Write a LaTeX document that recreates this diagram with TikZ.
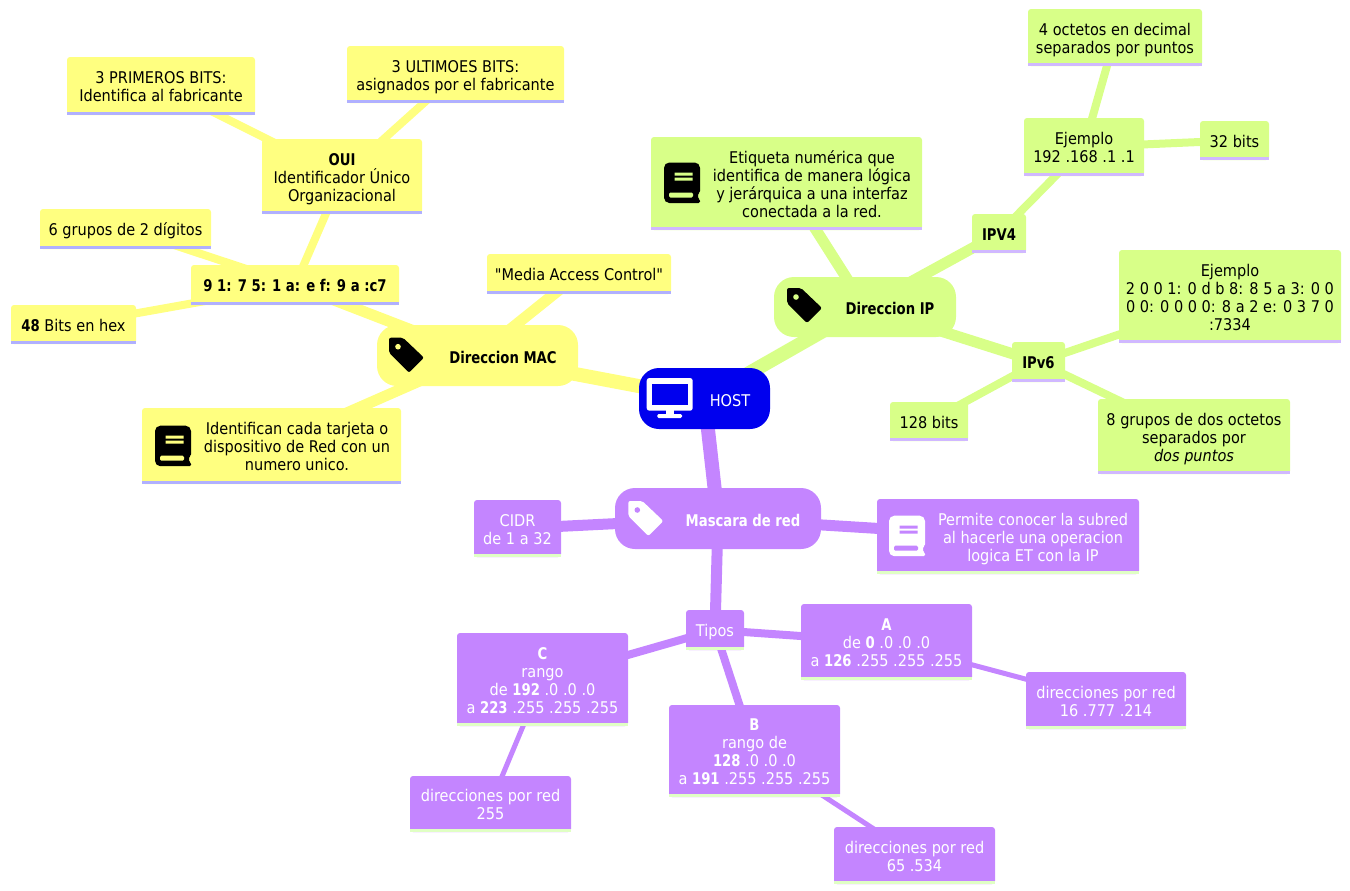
\documentclass[tikz,border=0pt]{standalone}
\usepackage{fontspec}
\setmainfont{DejaVu Sans Condensed}[Ligatures=TeXOff,BoldFeatures={FakeStretch=.91}]
\usetikzlibrary{backgrounds}
\pgfdeclarelayer{strips}
\pgfsetlayers{background,main,strips}
\definecolor{macc}{HTML}{FFFF80}
\definecolor{ipc}{HTML}{D8FF88}
\definecolor{maskc}{HTML}{C485FF}
\definecolor{hostc}{HTML}{0000EE}
\definecolor{macline}{HTML}{B0B0FF}
\definecolor{ipline}{HTML}{D0B8FF}
\definecolor{maskline}{HTML}{E0FFC4}
\newcommand\ml[1]{\rule{0pt}{14.1pt}#1\rule[-3.9pt]{0pt}{3.9pt}}
\tikzset{
  wh/.style 2 args={minimum width=#1*.75pt,minimum height=#2*.75pt},
  strip/.style={append after command={\pgfextra{\begin{pgfonlayer}{strips}\fill[#1,sharp corners]
    ([yshift=2.25pt]\tikzlastnode.south west) rectangle (\tikzlastnode.south east);\end{pgfonlayer}}}},
  pics/bookicon/.style 2 args={code={
    \fill[#1,rounded corners=4pt] (0,0)--(36,0)[rounded corners=1pt]--(36,30)--(34,31)--(34,36)--(36,37)--(36,40.5)[rounded corners=4pt]--(0,40.5)--cycle;
    \fill[#2,rounded corners=1pt] (5,30)--(29,30)--(29,35)--(5,35)--cycle;
    \fill[#2] (10.5,10)rectangle(28.5,13) (10.5,15)rectangle(28.5,18);
  }},
  pics/tagicon/.style 2 args={code={
    \fill[#1,rounded corners=1.5pt] (0,0)--(14,0)--(35,20)--(20,35)--(0,15)--cycle;
    \fill[#2] (9,9) circle (2.8);
  }},
  pics/screenicon/.style 2 args={code={
    \fill[#1,rounded corners=2pt] (0,0) rectangle (46,32.7);
    \fill[#2] (5,5.5) rectangle (41.3,27);
    \fill[#1] (19,32) rectangle (27,37);
    \fill[#1,rounded corners=1pt] (10.7,36) rectangle (35.3,40);
  }},
}
\tikzstyle{every node}=[font=\fontsize{12.1}{13.5}\selectfont]
\tikzstyle{lone}=[inner sep=0pt,align=center,
  execute at begin node={\rule{0pt}{14.1pt}},execute at end node={\rule[-3.9pt]{0pt}{3.9pt}}]
\tikzstyle{card}=[lone,rounded corners=2.25pt]
\tikzstyle{mac}=[card,fill=macc,strip=macline]
\tikzstyle{ip}=[card,fill=ipc,strip=ipline]
\tikzstyle{mask}=[card,fill=maskc,strip=maskline,text=white]
\tikzstyle{hub}=[inner sep=0pt,rounded corners=15pt]
\tikzstyle{br}=[line width=10.5pt]
\tikzstyle{brm}=[line width=8.25pt]
\tikzstyle{brs}=[line width=6pt]
\tikzstyle{brt}=[line width=3.75pt]
\begin{document}
\begin{tikzpicture}[x=.75pt,y=-.75pt]
  \useasboundingbox (0,0) rectangle (1350,890);
  \node[hub,fill=hostc,wh={131}{61}] (host) at (704.5,398.5) {};
  \node[lone,text=white] (hosttext) at (730,400) {HOST};
  \pic at (646.7,378) {screenicon={white}{hostc}};
  \node[hub,fill=macc,wh={201}{61}] (dirmac) at (477.5,355.5) {};
  \node[lone] (dirmactext) at (503,357) {\textbf{Direccion MAC}};
  \pic at (389,337.7) {tagicon={black}{macc}};
  \node[hub,fill=ipc,wh={182}{60}] (dirip) at (865,307) {};
  \node[lone] (diriptext) at (890,308) {\textbf{Direccion IP}};
  \pic at (787,288) {tagicon={black}{ipc}};
  \node[hub,fill=maskc,wh={206}{61}] (dirmask) at (718,518.5) {};
  \node[lone,text=white] (dirmasktext) at (743,520) {\textbf{Mascara de red}};
  \pic at (628.3,501) {tagicon={white}{maskc}};

  \node[mac,wh={184}{40}] (macname) at (579,274) {"Media Access Control"};
  \node[mac,wh={217}{57}] (ultimos) at (455.5,74.5) {\ml{3 ULTIMOES BITS:\\asignados por el fabricante}};
  \node[mac,wh={188}{58}] (primeros) at (161,86) {\ml{3 PRIMEROS BITS:\\Identifica al fabricante}};
  \node[mac,wh={160}{75}] (oui) at (342,176.5) {\ml{\textbf{OUI}\\Identificador Único\\Organizacional}};
  \node[mac,wh={208}{40}] (macaddr) at (295,285) {\textbf{9 1: 7 5: 1 a: e f: 9 a :c7}};
  \node[mac,wh={171}{40}] (grupos) at (125.5,229) {6 grupos de 2 dígitos};
  \node[mac,wh={125}{39}] (bitshex) at (73.5,324.5) {\textbf{48} Bits en hex};
  \node[mac,wh={259}{76}] (macnote) at (271.5,446) {};
  \node[lone] (macnotetext) at (297,446) {\ml{Identifican cada tarjeta o\\dispositivo de Red con un\\numero unico.}};
  \pic at (155,425.7) {bookicon={black}{macc}};

  \node[ip,wh={271}{93}] (ipnote) at (786.5,183.5) {};
  \node[lone] (ipnotetext) at (812,184) {\ml{Etiqueta numérica que\\identifica de manera lógica\\y jerárquica a una interfaz\\conectada a la red.}};
  \pic at (664,162.5) {bookicon={black}{ipc}};
  \node[ip,wh={54}{39}] (ipvfour) at (999,233.5) {\textbf{IPV4}};
  \node[ip,wh={120}{58}] (ejfour) at (1084,147) {\ml{Ejemplo\\192 .168 .1 .1}};
  \node[ip,wh={69}{39}] (bitsfour) at (1234.5,140.5) {32 bits};
  \node[ip,wh={174}{57}] (octetos) at (1115,37.5) {\ml{4 octetos en decimal\\separados por puntos}};
  \node[ip,wh={53}{40}] (ipvsix) at (1038.5,362) {\textbf{IPv6}};
  \node[ip,wh={222}{93}] (ejsix) at (1230,296.5) {\ml{Ejemplo\\2 0 0 1: 0 d b 8: 8 5 a 3: 0 0\\0 0: 0 0 0 0: 8 a 2 e: 0 3 7 0\\:7334}};
  \node[ip,wh={192}{75}] (octsix) at (1194,436.5) {\ml{8 grupos de dos octetos\\separados por\\\textit{dos puntos}}};
  \node[ip,wh={78}{39}] (bitssix) at (929,421.5) {128 bits};

  \node[mask,wh={87}{57}] (cidr) at (517.5,528.5) {\ml{CIDR\\de 1 a 32}};
  \node[mask,wh={262}{75}] (masknote) at (1008,536.5) {};
  \node[lone,text=white] (masknotetext) at (1033,537) {\ml{Permite conocer la subred\\al hacerle una operacion\\logica ET con la IP}};
  \pic at (889,515.7) {bookicon={white}{maskc}};
  \node[mask,wh={58}{40}] (tipos) at (715,630) {Tipos};
  \node[mask,wh={171}{76}] (clasea) at (886.5,642) {\ml{\textbf{A}\\de \textbf{0} .0 .0 .0\\a \textbf{126} .255 .255 .255}};
  \node[mask,wh={160}{57}] (reda) at (1106,700.5) {\ml{direcciones por red\\16 .777 .214}};
  \node[mask,wh={171}{93}] (clasec) at (542.5,679.5) {\ml{\textbf{C}\\rango\\de \textbf{192} .0 .0 .0\\a \textbf{223} .255 .255 .255}};
  \node[mask,wh={161}{56}] (redc) at (490.5,804) {\ml{direcciones por red\\255}};
  \node[mask,wh={171}{92}] (claseb) at (754.5,751) {\ml{\textbf{B}\\rango de\\\textbf{128} .0 .0 .0\\a \textbf{191} .255 .255 .255}};
  \node[mask,wh={161}{57}] (redb) at (914.5,855.5) {\ml{direcciones por red\\65 .534}};

  \begin{scope}[on background layer]
    \draw[macc,br] (host.center)--(dirmac.center);
    \draw[ipc,br] (host.center)--(dirip.center);
    \draw[maskc,br] (host.center)--(dirmask.center);
    \draw[macc,brm] (dirmac.center)--(macname.center);
    \draw[macc,brm] (dirmac.center)--(macaddr.center);
    \draw[macc,brm] (dirmac.center)--(macnote.center);
    \draw[macc,brs] (macaddr.center)--(oui.center);
    \draw[macc,brs] (macaddr.center)--(grupos.center);
    \draw[macc,brs] (macaddr.center)--(bitshex.center);
    \draw[macc,brs] (oui.center)--(ultimos.center);
    \draw[macc,brs] (oui.center)--(primeros.center);
    \draw[ipc,brm] (dirip.center)--(ipnote.center);
    \draw[ipc,brm] (dirip.center)--(ipvfour.center);
    \draw[ipc,brm] (dirip.center)--(ipvsix.center);
    \draw[ipc,brs] (ipvfour.center)--(ejfour.center);
    \draw[ipc,brs] (ejfour.center)--(octetos.center);
    \draw[ipc,brs] (ejfour.center)--(bitsfour.center);
    \draw[ipc,brs] (ipvsix.center)--(ejsix.center);
    \draw[ipc,brs] (ipvsix.center)--(octsix.center);
    \draw[ipc,brs] (ipvsix.center)--(bitssix.center);
    \draw[maskc,brm] (dirmask.center)--(cidr.center);
    \draw[maskc,brm] (dirmask.center)--(masknote.center);
    \draw[maskc,brm] (dirmask.center)--(tipos.center);
    \draw[maskc,brs] (tipos.center)--(clasea.center);
    \draw[maskc,brs] (tipos.center)--(claseb.center);
    \draw[maskc,brs] (tipos.center)--(clasec.center);
    \draw[maskc,brt] (clasea.center)--(reda.center);
    \draw[maskc,brt] (claseb.center)--(redb.center);
    \draw[maskc,brt] (clasec.center)--(redc.center);
  \end{scope}
\end{tikzpicture}
\end{document}
